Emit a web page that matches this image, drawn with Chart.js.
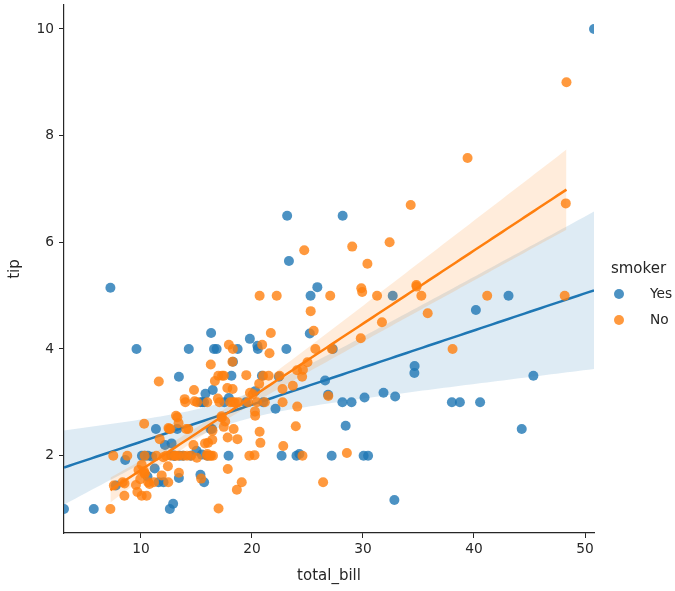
<!DOCTYPE html>
<html>
<head>
<meta charset="utf-8">
<script src="https://cdn.jsdelivr.net/npm/chart.js@4.4.0/dist/chart.umd.min.js"></script>
<style>
html,body{margin:0;padding:0;background:#fff;}
canvas{display:block;}
</style>
</head>
<body>
<canvas id="c" width="675" height="591"></canvas>
<script>
// Smoker = Yes
const yesBill = [38.01,11.24,20.29,13.81,11.02,18.29,3.07,15.01,26.86,25.28,17.92,19.44,32.68,28.97,5.75,16.32,40.17,27.28,12.03,21.01,11.35,15.38,44.3,22.42,15.36,20.49,25.21,14.31,16.0,17.51,10.59,10.63,50.81,15.81,7.25,31.85,16.82,32.9,17.89,14.48,9.6,34.63,34.65,23.33,45.35,23.17,40.55,20.9,30.46,18.15,23.1,15.69,19.81,28.44,15.48,16.58,10.34,43.11,13.0,13.51,18.71,12.74,13.0,16.4,20.53,16.47,26.59,38.73,24.27,12.76,30.06,25.89,13.27,28.17,12.9,28.15,11.59,7.74,30.14,12.16,13.42,8.58,13.42,16.27,10.09,22.12,24.01,15.69,15.53,12.6,32.83,27.18,22.67];
const yesTip  = [3.0,1.76,3.21,2.0,1.98,3.76,1.0,2.09,3.14,5.0,3.08,3.0,5.0,3.0,1.0,4.3,4.73,4.0,1.5,3.0,2.5,3.0,2.5,3.48,1.64,4.06,4.29,4.0,2.0,3.0,1.61,2.0,10.0,3.16,5.15,3.18,4.0,3.11,2.0,2.0,4.0,3.55,3.68,5.65,3.5,6.5,3.0,3.5,2.0,3.5,4.0,1.5,4.19,2.56,2.02,4.0,2.0,5.0,2.0,2.0,4.0,2.01,2.0,2.5,4.0,3.23,3.41,3.0,2.03,2.23,2.0,5.16,2.5,6.5,1.1,3.0,1.5,1.44,3.09,2.2,3.48,1.92,1.58,2.5,2.0,2.88,2.0,3.0,3.0,1.0,1.17,2.0,2.0];
// Smoker = No
const noBill = [16.99,10.34,21.01,23.68,24.59,25.29,8.77,26.88,15.04,14.78,10.27,35.26,15.42,18.43,14.83,21.58,10.33,16.29,16.97,20.65,17.92,20.29,15.77,39.42,19.82,17.81,13.37,12.69,21.7,19.65,9.55,18.35,15.06,20.69,17.78,24.06,16.31,16.93,18.69,31.27,16.04,17.46,13.94,9.68,30.4,18.29,22.23,32.4,28.55,18.04,12.54,10.29,34.81,9.94,25.56,19.49,26.41,48.27,17.59,20.08,16.45,20.23,12.02,17.07,14.73,10.51,27.2,22.76,17.29,16.66,10.07,15.98,34.83,13.03,18.28,24.71,21.16,22.49,22.75,12.46,20.92,18.24,14.0,7.25,38.07,23.95,25.71,17.31,29.93,10.65,12.43,24.08,11.69,13.42,14.26,15.95,12.48,29.8,8.52,14.52,11.38,22.82,19.08,20.27,11.17,12.26,18.26,8.51,10.33,14.15,13.16,17.47,34.3,41.19,27.05,16.43,8.35,18.64,11.87,9.78,7.51,14.07,13.13,17.26,24.55,19.77,29.85,48.17,25.0,13.39,16.49,21.5,12.66,16.21,13.81,24.52,20.76,31.71,20.69,7.56,48.33,15.98,20.45,13.28,11.61,10.77,10.07,35.83,29.03,17.82,18.78];
const noTip  = [1.01,1.66,3.5,3.31,3.61,4.71,2.0,3.12,1.96,3.23,1.71,5.0,1.57,3.0,3.02,3.92,1.67,3.71,3.5,3.35,4.08,2.75,2.23,7.58,3.18,2.34,2.0,2.0,4.3,3.0,1.45,2.5,3.0,2.45,3.27,3.6,2.0,3.07,2.31,5.0,2.24,2.54,3.06,1.32,5.6,3.0,5.0,6.0,2.05,3.0,2.5,2.6,5.2,1.56,4.34,3.51,1.5,6.73,2.64,3.15,2.47,2.01,1.97,3.0,2.2,1.25,4.0,3.0,2.71,3.4,1.83,2.03,5.17,2.0,4.0,5.85,3.0,3.5,3.25,1.5,4.08,3.76,3.0,1.0,4.0,2.55,4.0,3.5,5.07,1.5,1.8,2.92,2.31,1.68,2.5,2.0,2.52,4.2,1.48,2.0,2.0,2.18,1.5,2.83,1.5,2.0,3.25,1.25,2.0,2.0,2.75,3.5,6.7,5.0,5.0,2.3,1.5,1.36,1.63,1.73,2.0,2.5,2.0,2.74,2.0,2.0,5.14,5.0,3.75,2.61,2.0,3.5,2.5,2.0,2.0,3.48,2.24,4.5,5.0,1.44,9.0,3.0,3.0,2.72,3.39,1.47,1.25,4.67,5.92,1.75,3.0];

const groups = ["Yes", "No"];
const xTicks = [10, 20, 30, 40, 50];
const yTicks = [2, 4, 6, 8, 10];

const BLUE = [31,119,180], ORANGE = [255,127,14];
const rgba = (c,a) => `rgba(${c[0]},${c[1]},${c[2]},${a})`;

// Least squares fit with a robust (sandwich, HC3) 95% band, from the data.
function fit(xs, ys) {
  const n = xs.length;
  const mx = xs.reduce((a,b)=>a+b,0)/n, my = ys.reduce((a,b)=>a+b,0)/n;
  let sxx=0, sxy=0;
  for (let i=0;i<n;i++){ sxx+=(xs[i]-mx)**2; sxy+=(xs[i]-mx)*(ys[i]-my); }
  const b = sxy/sxx, a = my - b*mx;
  let m00=0, m01=0, m11=0;
  for (let i=0;i<n;i++){
    const d = xs[i]-mx, e = ys[i]-a-b*xs[i];
    const h = 1/n + d*d/sxx;
    const w = e*e/((1-h)*(1-h));
    m00 += w; m01 += w*d; m11 += w*d*d;
  }
  const c00 = m00/(n*n), c01 = m01/(n*sxx), c11 = m11/(sxx*sxx);
  const z = 1.96;
  const lo = Math.min(...xs), hi = Math.max(...xs);
  const line=[], up=[], dn=[];
  const steps = 100;
  for (let k=0;k<steps;k++){
    const x = lo + (hi-lo)*k/(steps-1);
    const d = x - mx;
    const yh = a + b*x;
    const se = Math.sqrt(Math.max(0, c00 + 2*d*c01 + d*d*c11));
    line.push({x, y:yh}); up.push({x, y:yh+z*se}); dn.push({x, y:yh-z*se});
  }
  return {line, up, dn};
}

const pts = (xs, ys) => xs.map((x,i)=>({x, y:ys[i]}));
const fy = fit(yesBill, yesTip), fn = fit(noBill, noTip);

function scatterDS(label, data, col, order){
  return {type:'scatter', label, data, order, backgroundColor: rgba(col,0.8), borderWidth:0,
          pointRadius:5, pointHoverRadius:5, clip:0};
}
function bandDS(data, col, order, fillTarget){
  return {type:'line', data, order, borderWidth:0, pointRadius:0, fill: fillTarget,
          backgroundColor: rgba(col,0.15), borderColor:'rgba(0,0,0,0)', tension:0, clip:0};
}
function lineDS(data, col, order){
  return {type:'line', data, order, borderWidth:2.5, borderColor: rgba(col,1), pointRadius:0, fill:false, tension:0, clip:0};
}

const datasets = [
  scatterDS(groups[0], pts(yesBill, yesTip), BLUE, 8),
  bandDS(fy.up, BLUE, 7, '+1'),
  bandDS(fy.dn, BLUE, 6, false),
  lineDS(fy.line, BLUE, 5),
  scatterDS(groups[1], pts(noBill, noTip), ORANGE, 4),
  bandDS(fn.up, ORANGE, 3, '+1'),
  bandDS(fn.dn, ORANGE, 2, false),
  lineDS(fn.line, ORANGE, 1)
];

const FONT = "'DejaVu Sans', sans-serif";
const INK = '#262626';

const legendPlugin = {
  id: 'sideLegend',
  afterDraw(chart){
    const ctx = chart.ctx;
    ctx.save();
    ctx.fillStyle = INK;
    ctx.font = `15px ${FONT}`;
    ctx.textAlign = 'center'; ctx.textBaseline = 'middle';
    ctx.fillText('smoker', 638.5, 269);
    const cols = [BLUE, ORANGE];
    groups.forEach((g,i)=>{
      const y = 294 + i*26;
      ctx.beginPath(); ctx.arc(619, y, 5, 0, Math.PI*2);
      ctx.fillStyle = rgba(cols[i],0.8); ctx.fill();
      ctx.fillStyle = INK; ctx.font = `13.75px ${FONT}`;
      ctx.textAlign = 'left';
      ctx.fillText(g, 650, y);
    });
    ctx.restore();
  }
};

new Chart(document.getElementById('c'), {
  type: 'scatter',
  data: { datasets },
  plugins: [legendPlugin],
  options: {
    responsive: false, animation: false, devicePixelRatio: 1,
    layout: { padding: { left: 0, right: 81, top: 2, bottom: 0 } },
    plugins: { legend: { display: false }, tooltip: { enabled: false } },
    scales: {
      x: {
        type: 'linear', min: 3.07, max: 50.81,
        afterBuildTicks: s => { s.ticks = xTicks.map(v=>({value:v})); },
        afterFit: s => { s.height = 58; s.paddingLeft = 0; s.paddingRight = 0; },
        grid: { display: true, drawOnChartArea: false, drawTicks: true, tickLength: 5, color: INK, lineWidth: 1 },
        border: { display: true, color: INK, width: 1.2 },
        ticks: { color: INK, font: { family: FONT, size: 13.75 }, padding: 3, maxRotation: 0, autoSkip: false },
        title: { display: true, text: 'total_bill', color: INK, font: { family: FONT, size: 15 }, padding: { top: 0, bottom: 6 } }
      },
      y: {
        type: 'linear', min: 0.55, max: 10.45,
        afterBuildTicks: s => { s.ticks = yTicks.map(v=>({value:v})); },
        afterFit: s => { s.width = 64; s.paddingTop = 0; s.paddingBottom = 0; },
        grid: { display: true, drawOnChartArea: false, drawTicks: true, tickLength: 5, color: INK, lineWidth: 1 },
        border: { display: true, color: INK, width: 1.2 },
        ticks: { color: INK, font: { family: FONT, size: 13.75 }, padding: 5, autoSkip: false },
        title: { display: true, text: 'tip', color: INK, font: { family: FONT, size: 15 }, padding: { top: 6, bottom: 0 } }
      }
    }
  }
});
</script>
</body>
</html>
